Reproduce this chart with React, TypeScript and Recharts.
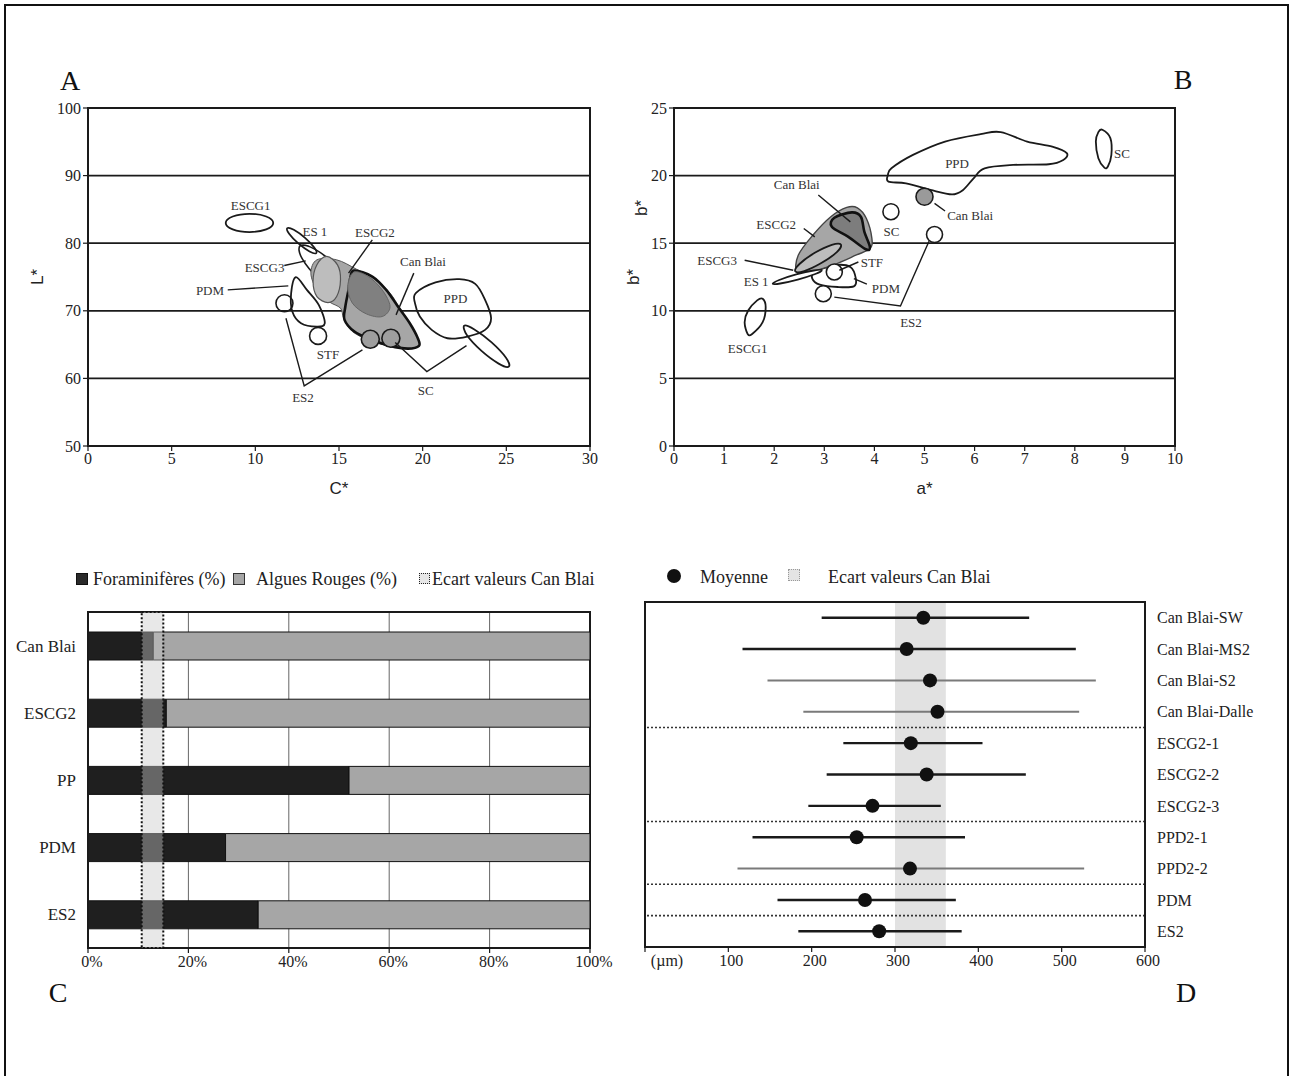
import React from 'react';
import {
  ScatterChart, Scatter, XAxis, YAxis, CartesianGrid, ReferenceArea, ReferenceLine,
  ErrorBar, BarChart, Bar,
} from 'recharts';

type P = [number, number];
const FONT = '"Liberation Serif", "DejaVu Serif", serif';
const SANS = '"Liberation Sans", "DejaVu Sans", sans-serif';

// ---------------- Panel A (C* vs L*) ----------------
const xTicksA = [0, 5, 10, 15, 20, 25, 30];
const yTicksA = [50, 60, 70, 80, 90, 100];
const aESCG1: P[] = [[8.23, 83.0], [8.65, 83.95], [9.65, 84.35], [10.65, 83.95], [11.07, 83.0], [10.65, 82.05], [9.65, 81.65], [8.65, 82.05]];
const aES1: P[] = [[13.64, 78.53], [13.52, 79.36], [12.97, 80.79], [12.30, 81.98], [11.91, 82.23], [12.02, 81.40], [12.57, 79.97], [13.24, 78.78]];
const aESCG3: P[] = [[16.04, 71.52], [15.93, 73.39], [14.90, 76.54], [13.55, 79.12], [12.68, 79.62], [12.79, 77.74], [13.82, 74.60], [15.17, 72.02]];
const aESCG2: P[] = [[13.68, 77.54], [14.86, 77.54], [16.04, 76.16], [17.22, 74.58], [18.05, 72.61], [18.64, 70.39], [19.35, 67.67], [19.78, 65.20], [19.47, 64.46], [18.41, 64.61], [16.99, 65.45], [15.80, 66.93], [15.28, 68.90], [15.09, 70.39], [14.39, 71.37], [13.68, 73.10], [13.32, 75.57]];
const aCanBlai: P[] = [[15.92, 75.96], [16.99, 75.07], [17.82, 73.10], [18.52, 70.63], [19.23, 68.16], [19.71, 65.94], [19.78, 64.81], [19.12, 64.41], [18.05, 64.81], [16.87, 65.80], [15.92, 66.93], [15.33, 68.66], [15.38, 70.63], [15.57, 73.10], [15.69, 75.07]];
const aLight: P[] = [[14.27, 78.04], [14.91, 76.80], [15.09, 74.58], [14.86, 72.11], [14.34, 71.22], [13.68, 72.11], [13.45, 74.33], [13.68, 76.80]];
const aDark: P[] = [[15.88, 75.72], [16.75, 75.07], [17.58, 73.10], [18.05, 70.63], [17.58, 69.15], [16.63, 69.55], [15.80, 71.13], [15.52, 73.59]];
const aPDM: P[] = [[12.42, 74.98], [13.08, 73.10], [13.79, 70.88], [14.15, 68.16], [13.67, 67.67], [12.73, 68.16], [12.21, 69.89], [12.14, 72.61]];
const aPPD: P[] = [[19.59, 72.61], [20.77, 74.19], [22.19, 74.68], [23.14, 73.99], [23.73, 71.62], [24.09, 68.90], [23.73, 67.18], [22.67, 66.19], [21.48, 65.94], [20.54, 67.18], [19.83, 69.15], [19.54, 71.13]];
const aSC: P[] = [[25.15, 61.75], [24.98, 63.05], [24.12, 65.32], [23.09, 67.23], [22.48, 67.80], [22.65, 66.37], [23.50, 64.10], [24.54, 62.19]];
const aWhiteCircles: P[] = [[11.74, 71.12], [13.75, 66.29]];
const aGrayCircles: P[] = [[16.87, 65.79], [18.10, 65.94]];
const aLeaders: P[][] = [
  [[11.73, 76.70], [13.01, 77.39]],
  [[16.99, 80.50], [15.57, 75.57]],
  [[19.47, 75.57], [18.41, 69.40]],
  [[8.35, 73.10], [11.97, 73.69]],
  [[11.83, 68.90], [12.92, 58.89], [16.40, 64.22]],
  [[18.36, 65.30], [20.25, 61.01], [22.62, 64.86]],
];
const aLabelText = ['ESCG1', 'ES 1', 'ESCG2', 'ESCG3', 'Can Blai', 'PDM', 'PPD', 'STF', 'ES2', 'SC'];
const aLabelPos: P[] = [[9.72, 85.59], [13.56, 81.74], [17.15, 81.59], [10.55, 76.46], [20.02, 77.25], [7.29, 72.95], [21.96, 71.82], [14.34, 63.57], [12.85, 57.21], [20.18, 58.15]];

// ---------------- Panel B (a* vs b*) ----------------
const xTicksB = [0, 1, 2, 3, 4, 5, 6, 7, 8, 9, 10];
const yTicksB = [0, 5, 10, 15, 20, 25];
const bPPD: P[] = [[4.27, 20.05], [4.34, 20.54], [4.77, 21.53], [5.41, 22.52], [6.12, 23.07], [6.52, 23.22], [7.05, 22.52], [7.55, 22.15], [7.84, 21.66], [7.77, 21.16], [7.48, 20.84], [6.77, 20.79], [6.20, 20.54], [5.98, 19.80], [5.77, 18.94], [5.55, 18.61], [5.12, 18.94], [4.63, 19.43], [4.28, 19.55]];
const bSC: P[] = [[8.55, 23.39], [8.71, 22.77], [8.73, 21.53], [8.66, 20.67], [8.59, 20.59], [8.47, 21.29], [8.42, 22.52], [8.47, 23.22]];
const bESCG1: P[] = [[1.77, 10.89], [1.83, 10.27], [1.77, 9.16], [1.56, 8.29], [1.47, 8.29], [1.41, 9.16], [1.48, 10.02], [1.66, 10.77]];
const bES1: P[] = [[2.95, 12.99], [2.82, 12.72], [2.47, 12.31], [2.12, 12.02], [1.97, 12.00], [2.10, 12.28], [2.44, 12.69], [2.79, 12.98]];
const bPDM: P[] = [[2.81, 12.87], [3.20, 13.37], [3.52, 13.24], [3.63, 12.38], [3.59, 11.81], [3.27, 11.76], [2.91, 11.93], [2.76, 12.38]];
const bESCG2: P[] = [[2.45, 12.87], [2.48, 14.11], [2.77, 15.59], [3.13, 16.96], [3.45, 17.65], [3.66, 17.62], [3.84, 16.83], [3.95, 15.35], [3.91, 14.60], [3.63, 14.11], [3.20, 13.42], [2.70, 12.87]];
const bESCG3: P[] = [[3.33, 14.90], [3.25, 14.34], [2.94, 13.53], [2.60, 12.94], [2.42, 12.92], [2.51, 13.48], [2.81, 14.29], [3.15, 14.88]];
const bCanBlai: P[] = [[3.20, 16.88], [3.55, 17.28], [3.73, 16.96], [3.80, 15.84], [3.91, 14.73], [3.83, 14.55], [3.48, 15.47], [3.15, 16.21]];
const bWhiteCircles: P[] = [[4.33, 17.33], [5.20, 15.64], [2.98, 11.26], [3.20, 12.87]];
const bGrayCircles: P[] = [[5.0, 18.44]];
const bLeaders: P[][] = [
  [[2.88, 18.56], [3.52, 16.58]],
  [[5.20, 17.95], [5.41, 17.38]],
  [[2.59, 16.09], [2.81, 15.47]],
  [[1.41, 13.74], [2.38, 13.0]],
  [[3.68, 13.61], [3.30, 13.0]],
  [[3.59, 12.38], [3.85, 11.98]],
  [[3.20, 11.01], [4.52, 10.35], [5.09, 15.15]],
];
const bLabelText = ['PPD', 'SC', 'Can Blai', 'Can Blai', 'SC', 'ESCG2', 'ESCG3', 'STF', 'ES 1', 'PDM', 'ES2', 'ESCG1'];
const bLabelPos: P[] = [[5.65, 20.92], [8.94, 21.66], [2.45, 19.31], [5.91, 17.03], [4.34, 15.89], [2.04, 16.39], [0.86, 13.71], [3.95, 13.56], [1.64, 12.18], [4.23, 11.68], [4.73, 9.16], [1.47, 7.23]];

// ---------------- Panel C (stacked %) ----------------
const catsC = ['Can Blai', 'ESCG2', 'PP', 'PDM', 'ES2'];
const foraC = [13.0, 15.6, 52.0, 27.4, 33.9];
const alguesC = [87.0, 84.4, 48.0, 72.6, 66.1];
const bandC: [number, number] = [10.7, 15.0];
const xTicksC = [0, 20, 40, 60, 80, 100];

// ---------------- Panel D (grain size) ----------------
const namesD = ['Can Blai-SW', 'Can Blai-MS2', 'Can Blai-S2', 'Can Blai-Dalle', 'ESCG2-1', 'ESCG2-2', 'ESCG2-3', 'PPD2-1', 'PPD2-2', 'PDM', 'ES2'];
const meansD = [334, 314, 342, 351, 319, 338, 273, 254, 318, 264, 281];
const minsD = [212, 117, 147, 190, 238, 218, 196, 129, 111, 159, 184];
const maxsD = [461, 517, 541, 521, 405, 457, 355, 384, 527, 373, 380];
const grayRowsD = [2, 3, 8];
const bandD: [number, number] = [300, 361];
const separatorsD = [3.5, 6.5, 8.5, 9.5];
const xTicksD = [0, 100, 200, 300, 400, 500, 600];

// ---------------- helpers ----------------
const toPts = (arr: P[]) => arr.map(([x, y]) => ({ x, y }));

function smoothClosed(pts: { x: number; y: number }[]) {
  const n = pts.length;
  if (!n) return '';
  let d = `M${pts[0].x},${pts[0].y}`;
  for (let i = 0; i < n; i++) {
    const p0 = pts[(i - 1 + n) % n], p1 = pts[i], p2 = pts[(i + 1) % n], p3 = pts[(i + 2) % n];
    const c1x = p1.x + (p2.x - p0.x) / 6, c1y = p1.y + (p2.y - p0.y) / 6;
    const c2x = p2.x - (p3.x - p1.x) / 6, c2y = p2.y - (p3.y - p1.y) / 6;
    d += ` C${c1x},${c1y} ${c2x},${c2y} ${p2.x},${p2.y}`;
  }
  return d + ' Z';
}

const hidden = () => <g />;

function blob(key: string, pts: P[], fill: string, stroke: string, sw: number) {
  return (
    <Scatter
      key={key}
      data={toPts(pts)}
      isAnimationActive={false}
      shape={hidden}
      lineType="joint"
      line={(p: any) => <path d={smoothClosed(p.points || [])} fill={fill} stroke={stroke} strokeWidth={sw} />}
    />
  );
}

function leader(key: string, pts: P[]) {
  return (
    <Scatter
      key={key}
      data={toPts(pts)}
      isAnimationActive={false}
      shape={hidden}
      line={{ stroke: '#1a1a1a', strokeWidth: 1.4 }}
      lineJointType="linear"
    />
  );
}

function circles(key: string, pts: P[], r: number, fill: string) {
  return (
    <Scatter
      key={key}
      data={toPts(pts)}
      isAnimationActive={false}
      shape={(p: any) => <circle cx={p.cx} cy={p.cy} r={r} fill={fill} stroke="#1a1a1a" strokeWidth={1.6} />}
    />
  );
}

function labels(key: string, texts: string[], pos: P[]) {
  const data = pos.map(([x, y], i) => ({ x, y, t: texts[i] }));
  return (
    <Scatter
      key={key}
      data={data}
      isAnimationActive={false}
      shape={(p: any) => (
        <text x={p.cx} y={p.cy} textAnchor="middle" dominantBaseline="central" fontFamily={FONT} fontSize={13} fill="#333">
          {p.payload?.t}
        </text>
      )}
    />
  );
}

const tickStyle = { fontFamily: FONT, fontSize: 16, fill: '#222' };
const axisLine = { stroke: '#1a1a1a', strokeWidth: 2 };
const tickLine = { stroke: '#1a1a1a', strokeWidth: 1.2 };
const titleStyle = { fontFamily: SANS, fontSize: 17, fill: '#222', textAnchor: 'middle' as const };

function DTick(props: any) {
  const { x, y, payload } = props;
  const v = payload?.value;
  return (
    <text x={x + (v === 0 ? 22 : 3)} y={y} dy="0.75em" textAnchor="middle" fontFamily={FONT} fontSize={16} fill="#222">
      {v === 0 ? '(µm)' : v}
    </text>
  );
}

function CTick(props: any) {
  const { x, y, payload } = props;
  return (
    <text x={x + 4} y={y} dy="0.75em" textAnchor="middle" fontFamily={FONT} fontSize={16} fill="#222">
      {`${payload?.value}%`}
    </text>
  );
}

const abs = (left: number, top: number): React.CSSProperties => ({ position: 'absolute', left, top });

export default function App() {
  const cRows = catsC.map((name, i) => ({ name, fora: foraC[i], algues: alguesC[i] }));
  const dRows = namesD.map((n, i) => ({ x: meansD[i], y: i, name: n, err: [meansD[i] - minsD[i], maxsD[i] - meansD[i]] }));
  const dGray = dRows.filter((_, i) => grayRowsD.includes(i));
  const dBlack = dRows.filter((_, i) => !grayRowsD.includes(i));
  const dot = (p: any) => <circle cx={p.cx} cy={p.cy} r={7} fill="#111" />;

  const letter: React.CSSProperties = { position: 'absolute', fontFamily: FONT, fontSize: 28, color: '#111', lineHeight: 1, transform: 'translate(-50%, -50%)' };
  const legTxt: React.CSSProperties = { position: 'absolute', fontFamily: FONT, fontSize: 18, color: '#222', lineHeight: 1, whiteSpace: 'nowrap', transform: 'translateY(-50%)' };

  return (
    <div style={{ position: 'absolute', left: 0, top: 0, width: 1293, height: 1076, overflow: 'hidden', background: '#fff' }}>
      <div style={{ position: 'absolute', left: 4, top: 4, width: 1281, height: 1100, border: '2px solid #111' }} />

      <div style={{ ...letter, left: 70, top: 81 }}>A</div>
      <div style={{ ...letter, left: 1183, top: 80 }}>B</div>
      <div style={{ ...letter, left: 58, top: 993 }}>C</div>
      <div style={{ ...letter, left: 1186, top: 993 }}>D</div>

      {/* Panel A */}
      <div style={abs(20, 96)}>
        <ScatterChart width={584} height={410} margin={{ top: 12, right: 14, bottom: 0, left: 0 }}>
          <CartesianGrid vertical={false} stroke="#1a1a1a" strokeWidth={1.8} />
          <XAxis type="number" dataKey="x" domain={[0, 30]} ticks={xTicksA} allowDataOverflow height={60}
            tick={tickStyle} tickLine={tickLine} axisLine={axisLine} tickSize={5}
            label={{ value: 'C*', position: 'insideBottom', offset: 12, style: titleStyle }} />
          <YAxis type="number" dataKey="y" domain={[50, 100]} ticks={yTicksA} allowDataOverflow width={68}
            tick={tickStyle} tickLine={tickLine} axisLine={axisLine} tickSize={5}
            label={{ value: 'L*', angle: -90, position: 'insideLeft', offset: 17, style: titleStyle }} />
          <ReferenceArea x1={0} x2={30} y1={50} y2={100} fill="none" stroke="#1a1a1a" strokeWidth={2} />
          {blob('aPDM', aPDM, 'none', '#1a1a1a', 1.8)}
          {blob('aESCG1', aESCG1, 'none', '#1a1a1a', 1.8)}
          {blob('aES1', aES1, 'none', '#1a1a1a', 1.8)}
          {blob('aESCG3', aESCG3, 'none', '#1a1a1a', 1.6)}
          {blob('aESCG2', aESCG2, '#a6a6a6', '#555', 1)}
          {blob('aCanBlai', aCanBlai, '#a6a6a6', '#111', 2.6)}
          {blob('aLight', aLight, '#bdbdbd', '#555', 1.2)}
          {blob('aDark', aDark, '#808080', '#666', 1)}
          {blob('aPPD', aPPD, 'none', '#1a1a1a', 1.8)}
          {blob('aSC', aSC, 'none', '#1a1a1a', 1.8)}
          {circles('aW', aWhiteCircles, 8.5, 'none')}
          {circles('aG', aGrayCircles, 9, '#9e9e9e')}
          {aLeaders.map((l, i) => leader(`aL${i}`, l))}
          {labels('aLab', aLabelText, aLabelPos)}
        </ScatterChart>
      </div>

      {/* Panel B */}
      <div style={abs(610, 96)}>
        <ScatterChart width={580} height={410} margin={{ top: 12, right: 15, bottom: 0, left: 0 }}>
          <CartesianGrid vertical={false} stroke="#1a1a1a" strokeWidth={1.8} />
          <XAxis type="number" dataKey="x" domain={[0, 10]} ticks={xTicksB} allowDataOverflow height={60}
            tick={tickStyle} tickLine={tickLine} axisLine={axisLine} tickSize={5}
            label={{ value: 'a*', position: 'insideBottom', offset: 12, style: titleStyle }} />
          <YAxis type="number" dataKey="y" domain={[0, 25]} ticks={yTicksB} allowDataOverflow width={64}
            tick={tickStyle} tickLine={tickLine} axisLine={axisLine} tickSize={5}
            label={{ value: 'b*', angle: -90, position: 'insideLeft', offset: 23, style: titleStyle }} />
          <ReferenceArea x1={0} x2={10} y1={0} y2={25} fill="none" stroke="#1a1a1a" strokeWidth={2} />
          {blob('bPPD', bPPD, 'none', '#1a1a1a', 1.8)}
          {blob('bSC', bSC, 'none', '#1a1a1a', 1.8)}
          {blob('bESCG1', bESCG1, 'none', '#1a1a1a', 1.8)}
          {blob('bPDM', bPDM, 'none', '#1a1a1a', 1.8)}
          {blob('bESCG2', bESCG2, '#a6a6a6', '#444', 1.4)}
          {blob('bESCG3', bESCG3, '#bdbdbd', '#1a1a1a', 1.8)}
          {blob('bES1', bES1, '#ffffff', '#1a1a1a', 1.8)}
          {blob('bCanBlai', bCanBlai, '#7d7d7d', '#111', 2.6)}
          {circles('bW', bWhiteCircles, 8, '#ffffff')}
          {circles('bG', bGrayCircles, 8.5, '#9a9a9a')}
          {bLeaders.map((l, i) => leader(`bL${i}`, l))}
          {labels('bLab', bLabelText, bLabelPos)}
        </ScatterChart>
      </div>
      <div style={{ position: 'absolute', left: 641, top: 208, transform: 'translate(-50%, -50%) rotate(-90deg)', fontFamily: SANS, fontSize: 17, color: '#222', lineHeight: 1 }}>b*</div>

      {/* Panel C legend */}
      <div style={{ position: 'absolute', left: 76, top: 573, width: 10, height: 10, background: '#2a2a2a', border: '1px solid #111' }} />
      <div style={{ ...legTxt, left: 93, top: 579 }}>Foraminifères (%)</div>
      <div style={{ position: 'absolute', left: 233, top: 573, width: 10, height: 10, background: '#a6a6a6', border: '1px solid #333' }} />
      <div style={{ ...legTxt, left: 256, top: 579 }}>Algues Rouges (%)</div>
      <div style={{ position: 'absolute', left: 419, top: 573, width: 9, height: 9, background: '#e6e6e6', border: '1.5px dotted #222' }} />
      <div style={{ ...legTxt, left: 432, top: 579 }}>Ecart valeurs Can Blai</div>

      {/* Panel C */}
      <div style={abs(0, 600)}>
        <BarChart layout="vertical" width={630} height={390} data={cRows} margin={{ top: 12, right: 40, bottom: 0, left: 0 }} barSize={28}>
          <CartesianGrid horizontal={false} stroke="#666" strokeWidth={1} />
          <XAxis type="number" domain={[0, 100]} ticks={xTicksC} height={42} tick={<CTick />}
            tickLine={tickLine} axisLine={axisLine} tickSize={5} />
          <YAxis type="category" dataKey="name" width={88} tick={{ fontFamily: FONT, fontSize: 17, fill: '#222' }}
            tickLine={false} axisLine={axisLine} tickMargin={6} />
          <Bar dataKey="fora" stackId="s" fill="#1f1f1f" stroke="#111" strokeWidth={1} isAnimationActive={false} />
          <Bar dataKey="algues" stackId="s" fill="#a6a6a6" stroke="#111" strokeWidth={1} isAnimationActive={false} />
          <ReferenceArea x1={0} x2={100} fill="none" stroke="#1a1a1a" strokeWidth={2} />
        </BarChart>
      </div>
      {/* Panel C: Can Blai range band overlaid above the bars (same plot geometry, transparent bars) */}
      <div style={{ ...abs(0, 600), pointerEvents: 'none' }}>
        <BarChart layout="vertical" width={630} height={390} data={cRows} margin={{ top: 12, right: 40, bottom: 0, left: 0 }} barSize={28}>
          <XAxis type="number" domain={[0, 100]} ticks={xTicksC} height={42} tick={false} tickLine={false} axisLine={false} />
          <YAxis type="category" dataKey="name" width={88} tick={false} tickLine={false} axisLine={false} />
          <Bar dataKey="fora" stackId="s" fill="none" fillOpacity={0} stroke="none" isAnimationActive={false} />
          <Bar dataKey="algues" stackId="s" fill="none" fillOpacity={0} stroke="none" isAnimationActive={false} />
          <ReferenceArea x1={bandC[0]} x2={bandC[1]} fill="#c8c8c8" fillOpacity={0.42} stroke="#111" strokeDasharray="2 2" strokeWidth={2} />
        </BarChart>
      </div>

      {/* Panel D legend */}
      <div style={{ position: 'absolute', left: 667, top: 569, width: 14, height: 14, borderRadius: '50%', background: '#111' }} />
      <div style={{ ...legTxt, left: 700, top: 577 }}>Moyenne</div>
      <div style={{ position: 'absolute', left: 788, top: 569, width: 10, height: 10, background: '#e4e4e4', border: '1px dotted #999' }} />
      <div style={{ ...legTxt, left: 828, top: 577 }}>Ecart valeurs Can Blai</div>

      {/* Panel D */}
      <div style={abs(630, 590)}>
        <ScatterChart width={640} height={400} margin={{ top: 12, right: 0, bottom: 0, left: 15 }}>
          <ReferenceArea x1={bandD[0]} x2={bandD[1]} y1={-0.5} y2={10.5} fill="#e2e2e2" fillOpacity={1} stroke="none" />
          <XAxis type="number" dataKey="x" domain={[0, 600]} ticks={xTicksD} allowDataOverflow height={43}
            tick={<DTick />} tickLine={tickLine} axisLine={axisLine} tickSize={5} />
          <YAxis type="number" dataKey="y" orientation="right" domain={[-0.5, 10.5]} reversed allowDataOverflow
            ticks={namesD.map((_, i) => i)} interval={0} tickFormatter={(i: number) => namesD[i] ?? ''} width={125}
            tick={{ fontFamily: FONT, fontSize: 16, fill: '#222' }} tickLine={false} axisLine={axisLine} tickMargin={6} />
          {separatorsD.map((s) => (
            <ReferenceLine key={s} y={s} stroke="#333" strokeDasharray="2 2" strokeWidth={1.6} />
          ))}
          <Scatter data={dGray} isAnimationActive={false} shape={dot}>
            <ErrorBar dataKey="err" direction="x" width={0} stroke="#7a7a7a" strokeWidth={2} />
          </Scatter>
          <Scatter data={dBlack} isAnimationActive={false} shape={dot}>
            <ErrorBar dataKey="err" direction="x" width={0} stroke="#1a1a1a" strokeWidth={2.4} />
          </Scatter>
          <ReferenceArea x1={0} x2={600} y1={-0.5} y2={10.5} fill="none" stroke="#1a1a1a" strokeWidth={2} />
        </ScatterChart>
      </div>
    </div>
  );
}
